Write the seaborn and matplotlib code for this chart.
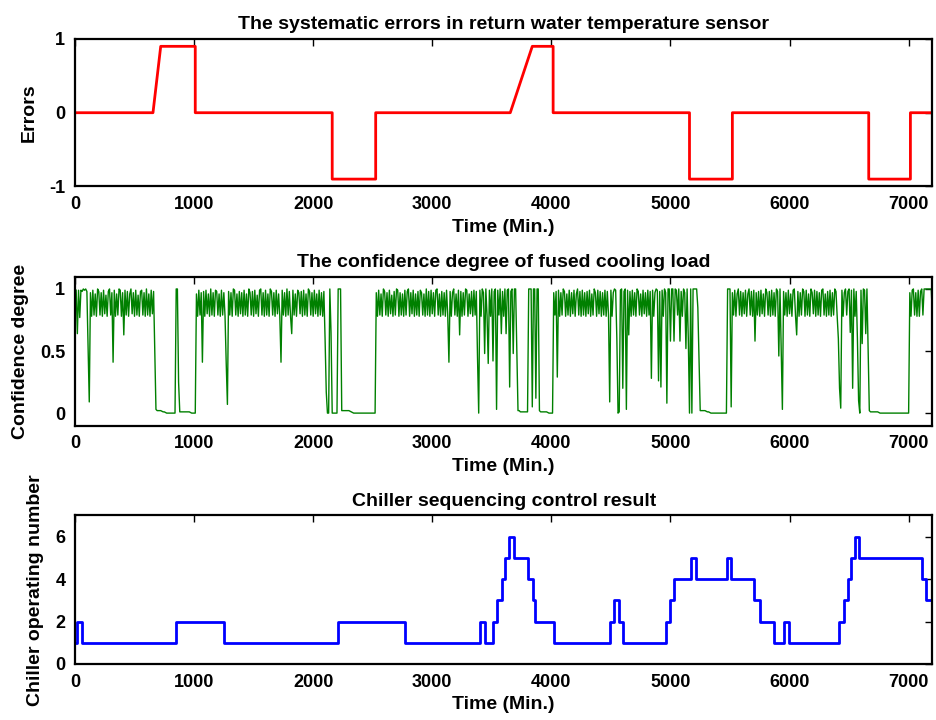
import numpy as np
import matplotlib
matplotlib.use("Agg")
import matplotlib.pyplot as plt
import seaborn as sns

# ---------------------------------------------------------------
# Systematic error injected into the return water temperature sensor
# ---------------------------------------------------------------
err_time = [0, 655, 720, 1010, 1010, 2160, 2160, 2525, 2525, 3655, 3840,
            4015, 4015, 5160, 5160, 5520, 5520, 6665, 6665, 7015, 7015, 7200]
err_value = [0, 0, 0.9, 0.9, 0, 0, -0.9, -0.9, 0, 0, 0.9,
             0.9, 0, 0, -0.9, -0.9, 0, 0, -0.9, -0.9, 0, 0]

# ---------------------------------------------------------------
# Confidence degree of the fused cooling load, one value every 10 min
# (five days of 144 samples each, plus the closing sample at 7200 min)
# ---------------------------------------------------------------
conf_step = 10
conf_day1 = [
    1.00, 0.99, 0.64, 0.99, 0.77, 0.99, 0.98, 1.00, 0.99, 1.00, 0.98, 0.55,
    0.09, 0.97, 0.78, 0.99, 0.79, 0.96, 0.78, 1.00, 0.98, 0.79, 0.97, 0.78,
    0.99, 0.80, 0.95, 0.78, 0.98, 1.00, 0.79, 0.97, 0.41, 0.99, 0.78, 0.96,
    0.79, 1.00, 0.99, 0.78, 0.97, 0.63, 0.99, 0.79, 0.98, 0.78, 0.96, 1.00,
    0.80, 0.97, 0.78, 0.99, 0.79, 0.95, 0.78, 0.98, 0.99, 0.79, 0.97, 0.78,
    1.00, 0.79, 0.96, 0.78, 0.99, 0.80, 0.98, 0.50, 0.03, 0.02, 0.02, 0.02,
    0.02, 0.015, 0.01, 0.01, 0.005, 0.00, 0.00, 0.00, 0.00, 0.00, 0.00, 0.00,
    0.00, 1.00, 1.00, 0.25, 0.01, 0.01, 0.01, 0.01, 0.01, 0.01, 0.01, 0.01,
    0.01, 0.005, 0.00, 0.00, 0.00, 0.00, 0.96, 0.78, 0.99, 0.79, 0.97, 0.41,
    0.98, 0.78, 0.99, 0.80, 0.96, 0.78, 1.00, 0.79, 0.97, 0.78, 0.99, 0.98,
    0.79, 0.96, 0.78, 0.99, 0.79, 0.97, 0.78, 0.40, 0.07, 0.98, 0.79, 0.97,
    0.78, 1.00, 0.99, 0.79, 0.96, 0.78, 0.98, 0.80, 0.97, 0.78, 0.99, 0.79,
]
conf_day2 = [
    0.96, 0.78, 1.00, 0.97, 0.79, 0.98, 0.78, 0.99, 0.80, 0.95, 0.78, 0.99,
    1.00, 0.79, 0.97, 0.78, 0.99, 0.79, 0.96, 0.78, 1.00, 0.98, 0.79, 0.97,
    0.78, 0.99, 0.80, 0.96, 0.78, 0.41, 0.99, 0.79, 0.97, 0.78, 1.00, 0.79,
    0.98, 0.78, 0.64, 0.99, 0.79, 0.96, 0.78, 0.99, 0.97, 0.80, 0.98, 0.78,
    0.99, 0.79, 0.96, 0.78, 1.00, 0.98, 0.79, 0.97, 0.78, 0.99, 0.80, 0.96,
    0.78, 0.99, 0.79, 0.97, 0.78, 0.98, 0.60, 0.17, 0.00, 0.00, 1.00, 0.65,
    0.00, 0.00, 0.00, 0.00, 0.00, 1.00, 1.00, 1.00, 0.02, 0.02, 0.02, 0.02,
    0.02, 0.02, 0.02, 0.015, 0.01, 0.005, 0.00, 0.00, 0.00, 0.00, 0.00, 0.00,
    0.00, 0.00, 0.00, 0.00, 0.00, 0.00, 0.00, 0.00, 0.00, 0.00, 0.00, 0.00,
    0.00, 0.97, 0.78, 0.99, 0.79, 0.96, 0.78, 1.00, 0.98, 0.79, 0.97, 0.78,
    0.99, 0.80, 0.95, 0.78, 0.98, 0.79, 1.00, 0.99, 0.78, 0.97, 0.79, 0.96,
    0.78, 0.99, 0.79, 0.98, 1.00, 0.78, 0.97, 0.80, 0.99, 0.78, 0.96, 0.79,
]
conf_day3 = [
    0.98, 0.78, 0.99, 0.97, 0.79, 0.96, 0.78, 1.00, 0.79, 0.98, 0.78, 0.99,
    0.80, 0.97, 0.78, 0.99, 1.00, 0.79, 0.96, 0.78, 0.98, 0.79, 0.97, 0.78,
    0.99, 0.79, 0.41, 0.98, 0.78, 0.97, 1.00, 0.79, 0.96, 0.78, 0.99, 0.63,
    0.98, 0.78, 0.97, 0.79, 1.00, 0.99, 0.78, 0.96, 0.80, 0.98, 0.78, 0.99,
    0.79, 0.98, 0.45, 0.00, 0.99, 0.78, 1.00, 0.97, 0.48, 1.00, 0.79, 0.40,
    0.99, 0.78, 1.00, 0.42, 0.98, 1.00, 0.03, 0.99, 0.79, 1.00, 0.64, 0.98,
    0.78, 1.00, 0.64, 0.99, 1.00, 0.21, 0.98, 1.00, 0.48, 1.00, 1.00, 0.50,
    0.02, 0.02, 0.01, 0.01, 0.01, 0.01, 0.01, 0.01, 0.01, 1.00, 1.00, 1.00,
    0.05, 1.00, 1.00, 0.12, 1.00, 1.00, 0.02, 0.01, 0.01, 0.01, 0.01, 0.01,
    0.01, 0.005, 0.00, 0.00, 0.00, 0.00, 0.97, 0.79, 0.98, 0.29, 0.99, 0.78,
    0.97, 0.79, 1.00, 0.98, 0.78, 0.96, 0.79, 0.99, 0.78, 0.97, 0.80, 0.99,
    0.78, 0.96, 1.00, 0.79, 0.98, 0.78, 0.99, 0.79, 0.97, 0.78, 0.98, 0.80,
]
conf_day4 = [
    0.99, 0.78, 0.96, 0.79, 1.00, 0.97, 0.78, 0.99, 0.80, 0.98, 0.78, 0.97,
    0.79, 0.99, 0.78, 0.98, 0.79, 0.09, 0.99, 0.78, 0.97, 1.00, 0.99, 0.60,
    0.00, 0.01, 0.99, 1.00, 0.20, 0.98, 1.00, 0.03, 0.99, 0.63, 0.98, 0.78,
    0.99, 0.79, 0.97, 0.78, 1.00, 0.98, 0.79, 0.96, 0.78, 0.99, 0.80, 0.97,
    0.78, 0.99, 0.79, 0.98, 0.28, 0.99, 0.78, 0.97, 1.00, 0.99, 0.26, 0.98,
    0.21, 0.99, 0.78, 1.00, 0.97, 0.08, 1.00, 1.00, 0.58, 1.00, 1.00, 0.58,
    1.00, 0.99, 0.79, 1.00, 0.58, 0.98, 0.78, 1.00, 0.97, 0.52, 1.00, 0.60,
    0.00, 1.00, 0.00, 1.00, 1.00, 1.00, 1.00, 0.85, 0.45, 0.02, 0.02, 0.02,
    0.02, 0.02, 0.015, 0.01, 0.01, 0.005, 0.00, 0.00, 0.00, 0.00, 0.00, 0.00,
    0.00, 0.00, 0.00, 0.00, 0.00, 0.00, 0.00, 0.00, 1.00, 1.00, 1.00, 0.05,
    0.97, 0.79, 0.99, 0.78, 0.96, 1.00, 0.79, 0.98, 0.78, 0.97, 0.80, 0.99,
    0.78, 0.96, 1.00, 0.79, 0.98, 0.78, 0.99, 0.58, 0.97, 0.79, 0.98, 0.78,
]
conf_day5 = [
    0.99, 0.80, 0.96, 0.78, 1.00, 0.97, 0.79, 0.98, 0.78, 0.99, 0.79, 0.97,
    0.78, 1.00, 0.98, 0.46, 1.00, 0.50, 0.03, 0.98, 0.79, 0.97, 0.78, 0.99,
    0.80, 0.96, 0.78, 0.99, 1.00, 0.79, 0.63, 0.98, 0.78, 0.97, 0.79, 1.00,
    0.98, 0.78, 0.99, 0.79, 0.96, 0.78, 1.00, 0.97, 0.80, 0.99, 0.78, 0.98,
    0.79, 0.97, 0.78, 0.99, 1.00, 0.79, 0.96, 0.78, 0.98, 0.79, 0.99, 0.78,
    0.97, 0.79, 1.00, 0.98, 0.78, 0.60, 0.20, 0.04, 0.99, 0.78, 0.97, 1.00,
    0.79, 0.98, 1.00, 0.65, 0.99, 0.20, 1.00, 0.78, 0.98, 0.60, 0.10, 0.00,
    0.99, 0.56, 1.00, 0.99, 0.64, 1.00, 0.50, 0.02, 0.01, 0.01, 0.01, 0.01,
    0.01, 0.01, 0.01, 0.005, 0.00, 0.00, 0.00, 0.00, 0.00, 0.00, 0.00, 0.00,
    0.00, 0.00, 0.00, 0.00, 0.00, 0.00, 0.00, 0.00, 0.00, 0.00, 0.00, 0.00,
    0.00, 0.00, 0.00, 0.00, 0.00, 0.97, 0.78, 0.99, 1.00, 0.79, 0.97, 0.78,
    0.99, 0.78, 0.98, 1.00, 0.79, 1.00, 1.00, 1.00, 1.00, 1.00, 1.00, 1.00,
]
conf_last = [0.77]

# ---------------------------------------------------------------
# Number of chillers in operation (value holds until the next switch)
# ---------------------------------------------------------------
chiller_time = [0, 14, 56, 845, 1255, 2205, 2775, 3400, 3440, 3512, 3546,
                3582, 3615, 3646, 3688, 3808, 3842, 3864, 4024, 4493, 4526,
                4568, 4602, 4962, 4996, 5029, 5175, 5216, 5476, 5510, 5700,
                5756, 5870, 5957, 5996, 6418, 6454, 6488, 6519, 6546, 6586,
                7116, 7147, 7200]
chiller_count = [1, 2, 1, 2, 1, 2, 1, 2, 1, 2, 3,
                 4, 5, 6, 5, 4, 3, 2, 1, 2, 3,
                 2, 1, 2, 3, 4, 5, 4, 5, 4, 3,
                 2, 1, 2, 1, 2, 3, 4, 5, 6, 5,
                 4, 3, 3]

x_ticks = [0, 1000, 2000, 3000, 4000, 5000, 6000, 7000]
titles = ["The systematic errors in return water temperature sensor",
          "The confidence degree of fused cooling load",
          "Chiller sequencing control result"]
y_labels = ["Errors", "Confidence degree", "Chiller operating number"]
x_label = "Time (Min.)"

conf_value = np.array(conf_day1 + conf_day2 + conf_day3 + conf_day4
                      + conf_day5 + conf_last)
conf_time = np.arange(len(conf_value)) * conf_step

# ---------------------------------------------------------------
sns.set_theme(style="white")
plt.rcParams["font.family"] = ["Liberation Sans", "DejaVu Sans"]
plt.rcParams["font.weight"] = "bold"
plt.rcParams["axes.labelweight"] = "bold"
plt.rcParams["axes.titleweight"] = "bold"
plt.rcParams["axes.edgecolor"] = "black"
plt.rcParams["axes.linewidth"] = 1.6
plt.rcParams["axes.unicode_minus"] = False
plt.rcParams["text.color"] = "black"
plt.rcParams["axes.labelcolor"] = "black"
plt.rcParams["xtick.color"] = "black"
plt.rcParams["ytick.color"] = "black"

fig = plt.figure(figsize=(9.36, 7.2), dpi=100)
fig.patch.set_facecolor("white")

left, width = 0.0801, 0.9161
ax1 = fig.add_axes([left, 0.7410, width, 0.2049])
ax2 = fig.add_axes([left, 0.4090, width, 0.2069])
ax3 = fig.add_axes([left, 0.0778, width, 0.2063])

sns.lineplot(x=err_time, y=err_value, ax=ax1, color="#ff0000",
             linewidth=2.0, estimator=None, sort=False)
sns.lineplot(x=conf_time, y=conf_value, ax=ax2, color="#008000",
             linewidth=1.0, estimator=None, sort=False)
sns.lineplot(x=chiller_time, y=chiller_count, ax=ax3, color="#0000ff",
             linewidth=2.0, estimator=None, sort=False,
             drawstyle="steps-post")

ax1.set_ylim(-1, 1)
ax1.set_yticks([-1, 0, 1])
ax2.set_ylim(-0.1, 1.1)
ax2.set_yticks([0, 0.5, 1])
ax2.set_yticklabels(["0", "0.5", "1"])
ax3.set_ylim(0, 7)
ax3.set_yticks([0, 2, 4, 6])

for ax, title, ylab in zip([ax1, ax2, ax3], titles, y_labels):
    ax.set_xlim(0, 7200)
    ax.set_xticks(x_ticks)
    ax.set_facecolor("white")
    for sp in ax.spines.values():
        sp.set_visible(True)
        sp.set_color("black")
        sp.set_linewidth(1.6)
    ax.tick_params(direction="in", length=5, width=1.0, top=True,
                   right=True, labelsize=13, pad=7, colors="black")
    ax.set_xlabel(x_label, fontsize=14, fontweight="bold", labelpad=4)
    ax.set_ylabel(ylab, fontsize=14, fontweight="bold", labelpad=8)
    ax.set_title(title, fontsize=14, fontweight="bold", pad=7)
    ax.grid(False)

fig.savefig("out.png", dpi=100, facecolor="white")
